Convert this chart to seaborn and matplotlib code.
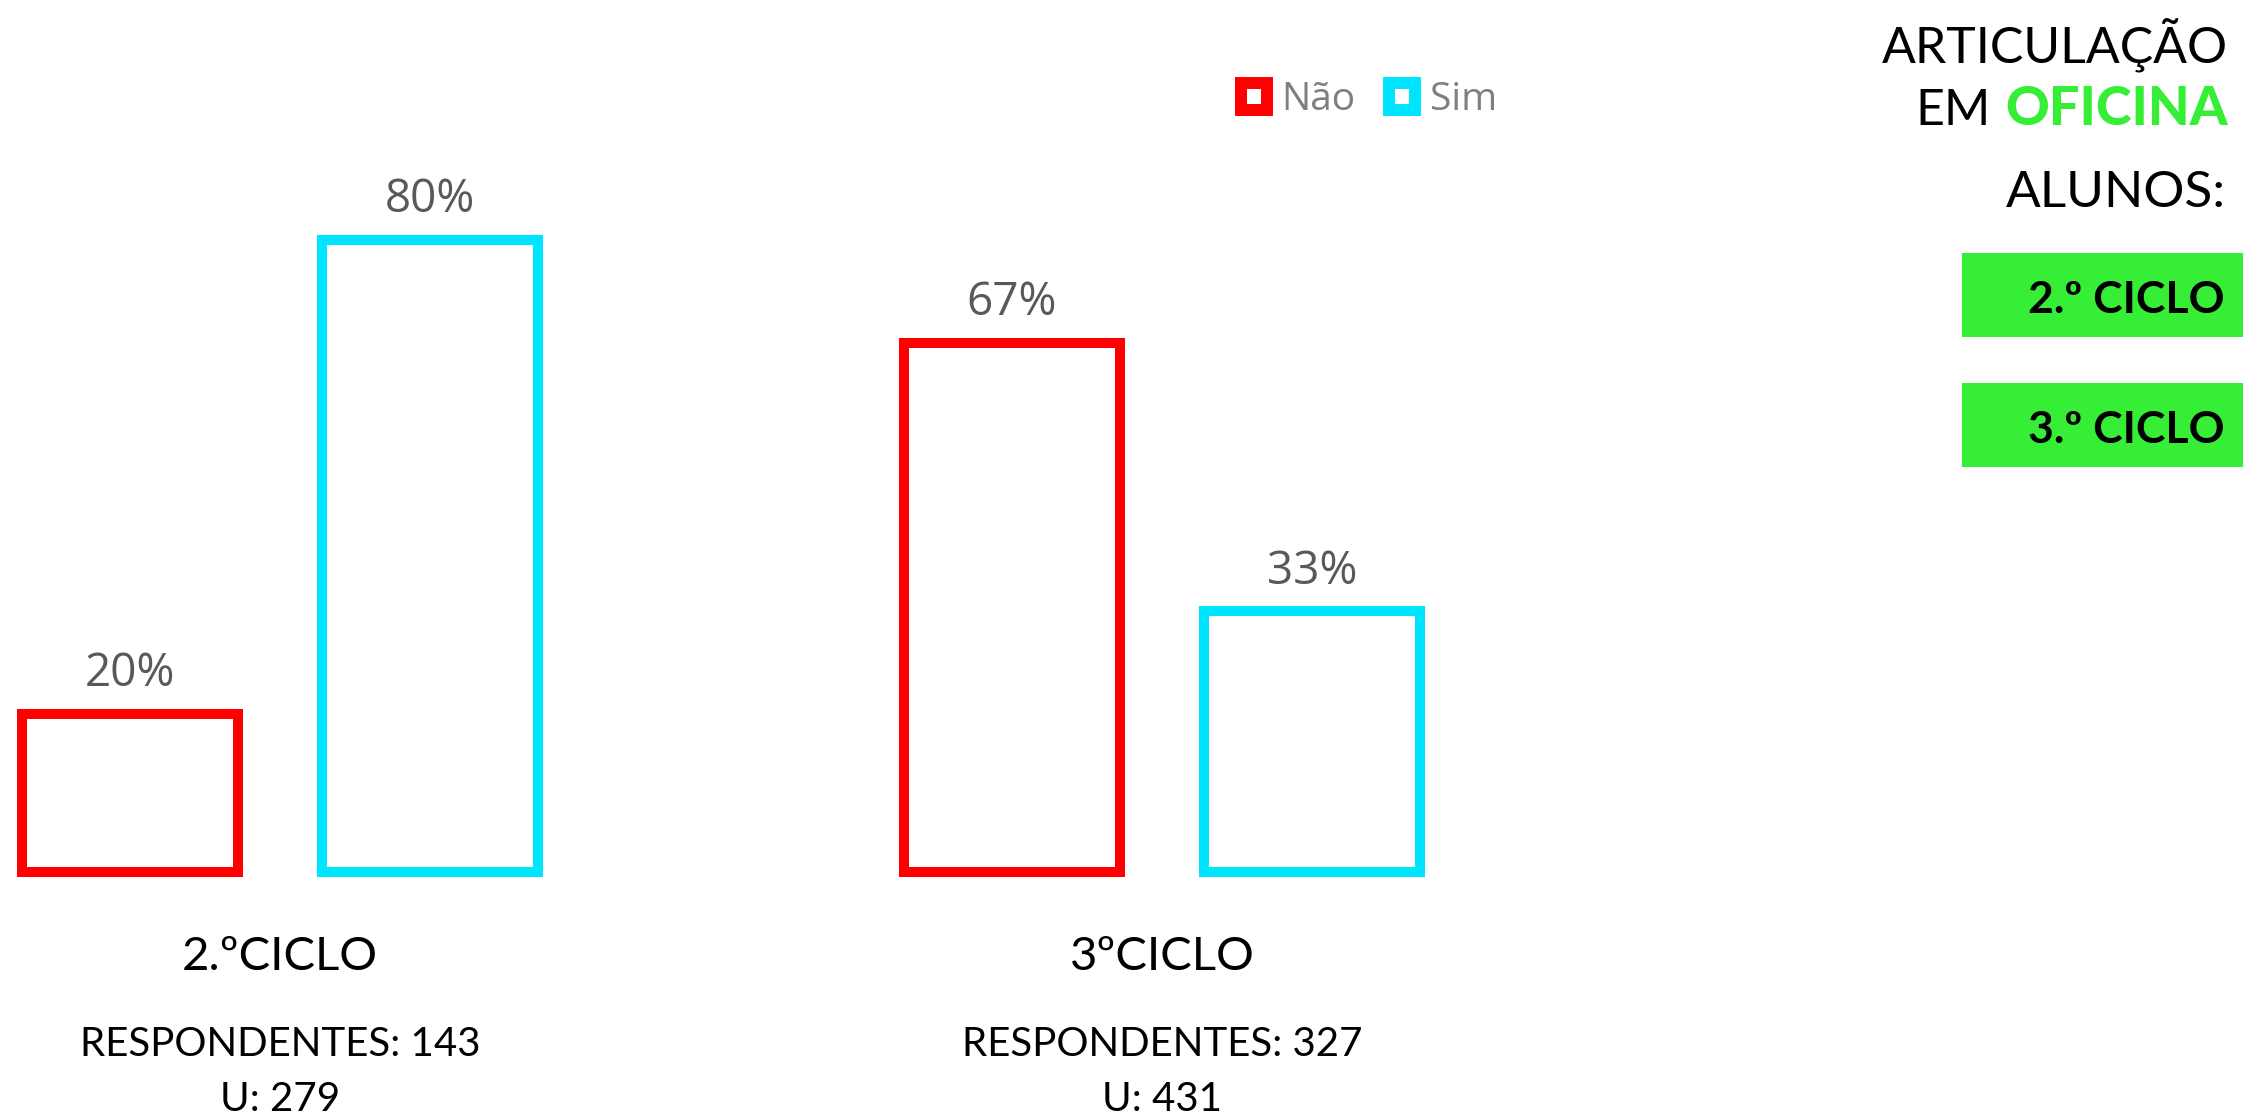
import matplotlib
matplotlib.use('Agg')
import pandas as pd
import matplotlib.pyplot as plt
import matplotlib.transforms as mtransforms
from matplotlib.patches import Patch, Rectangle
import seaborn as sns

# dados
ciclos = ['2.ºCICLO', '3ºCICLO']
respostas = ['Não', 'Sim']
nao_pct = [20, 67]
sim_pct = [80, 33]
respondentes = [143, 327]
universo = [279, 431]
painel_ciclos = ['2.º CICLO', '3.º CICLO']
cores = {'Não': '#FF0000', 'Sim': '#00E5FF'}
verde = '#36EE36'

df = pd.DataFrame({
    'ciclo': ciclos * 2,
    'resposta': ['Não'] * len(ciclos) + ['Sim'] * len(ciclos),
    'pct': nao_pct + sim_pct,
})

sns.set_theme(style='white')
plt.rcParams['font.family'] = ['Lato', 'DejaVu Sans']
sans2 = ['Open Sans', 'DejaVu Sans']

W, H = 2243, 1119
fig = plt.figure(figsize=(W / 100, H / 100), dpi=100)
fig.patch.set_facecolor('white')

def fx(px):
    return px / W

def fy(py):
    return 1 - py / H

# eixo principal (base das barras em y=872px)
ax = fig.add_axes([0, fy(872), fx(1500), (872 - 100) / H])
sns.barplot(data=df, x='ciclo', y='pct', hue='resposta', order=ciclos,
            hue_order=respostas, palette=cores, fill=False, width=0.68,
            gap=0.28, linewidth=7.2, errorbar=None, legend=False, ax=ax)
ax.set_facecolor('none')
ax.set_xlim(-280 / 882, (1500 - 280) / 882)
ax.set_ylim(0, 772 / 7.9)
for p in ax.patches:
    p.set_clip_on(False)
for c in ax.containers:
    ax.bar_label(c, fmt='{:.0f}%', padding=12, fontsize=33,
                 color='#595959', family=sans2)

sns.despine(ax=ax, left=True, bottom=True)
ax.set_yticks([])
ax.set_xlabel('')
ax.set_ylabel('')
ax.set_xticks(range(len(ciclos)), ciclos, va='baseline')
ax.tick_params(axis='x', length=0, pad=70.6, labelsize=34, labelcolor='black')

# respondentes / universo
trans = mtransforms.blended_transform_factory(ax.transData, fig.transFigure)
for i, (r, u) in enumerate(zip(respondentes, universo)):
    ax.text(i, fy(1056), f'RESPONDENTES: {r}', transform=trans,
            ha='center', va='baseline', fontsize=29, color='black')
    ax.text(i, fy(1111), f'U: {u}', transform=trans,
            ha='center', va='baseline', fontsize=29, color='black')

# legenda
handles = [Patch(facecolor='white', edgecolor=cores[r], linewidth=8.6, label=r)
           for r in respostas]
ax.legend(handles=handles, loc='center', bbox_to_anchor=(fx(1369), fy(100)),
          bbox_transform=fig.transFigure, ncol=2, frameon=False,
          prop={'family': sans2, 'size': 28}, labelcolor='#7F7F7F',
          handlelength=0.67, handleheight=0.67, handletextpad=0.38,
          columnspacing=0.87)

# painel da direita
fig.text(fx(2228), fy(62), 'ARTICULAÇÃO', ha='right', va='baseline',
         fontsize=36, color='black')
t_of = fig.text(fx(2228), fy(125), 'OFICINA', ha='right', va='baseline',
                fontsize=39, fontweight='black', color=verde)
ax.annotate('EM', xy=(0, 0), xycoords=t_of, xytext=(-14, 0),
            textcoords='offset pixels', ha='right', va='bottom',
            fontsize=36, color='black', annotation_clip=False)
fig.text(fx(2226), fy(207), 'ALUNOS:', ha='right', va='baseline',
         fontsize=37, color='black')

caixas = [(253, 337, 313), (383, 467, 443)]
for (y0, y1, base), lab in zip(caixas, painel_ciclos):
    fig.add_artist(Rectangle((fx(1962), fy(y1)), fx(W - 1962), (y1 - y0) / H,
                             transform=fig.transFigure, facecolor=verde,
                             edgecolor='none'))
    fig.text(fx(2225), fy(base), lab, ha='right', va='baseline',
             fontsize=32, fontweight='bold', color='black')

fig.savefig('out.png', dpi=100)
